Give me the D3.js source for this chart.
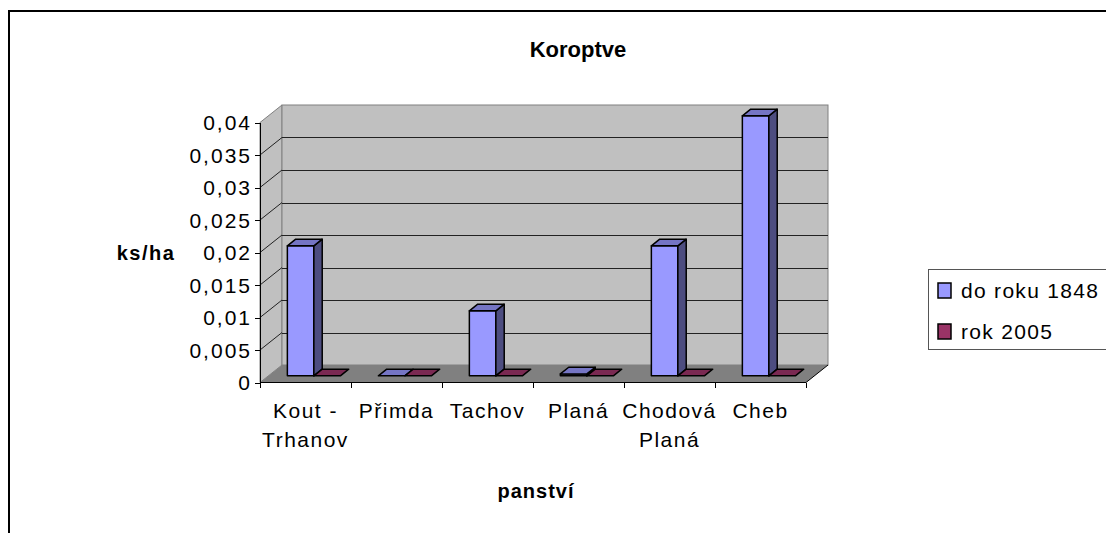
<!DOCTYPE html>
<meta charset="utf-8">
<head>
<style>
  body { margin: 0; background: #fff; }
  svg { display: block; font-family: Arial, "Liberation Sans", sans-serif; }
  .axis path, .axis line { stroke: #000; shape-rendering: crispEdges; }
  .axis text { font-size: 21px; fill: #000; letter-spacing: 1.5px; }
  .axis.y text { letter-spacing: 2px; }
</style>
</head>
<body>
<script src="https://cdnjs.cloudflare.com/ajax/libs/d3/7.8.5/d3.min.js"></script>
<script>

// data
const categories = [["Kout -", "Trhanov"], ["Přimda"], ["Tachov"], ["Planá"], ["Chodová", "Planá"], ["Cheb"]];
const seriesNames = ["do roku 1848", "rok 2005"];
const do1848 = [0.02, 0, 0.01, 0.0003, 0.02, 0.04];
const rok2005 = [0, 0, 0, 0, 0, 0];
const yTicks = [0, 0.005, 0.01, 0.015, 0.02, 0.025, 0.03, 0.035, 0.04];

const W = 1106, H = 533;
// oblique depth of the walls
const DX = 22, DY = -17.5;
// bars sit between these depth fractions
const f1 = 0.38, f2 = 0.76;

const colors = [
  {front: "#9999FF", side: "#4D4D80", top: "#7575C4"},
  {front: "#993366", side: "#4D1A33", top: "#7A2952"}
];

const svg = d3.select("body").append("svg")
  .attr("width", W)
  .attr("height", H);

const x = d3.scaleBand()
  .domain(d3.range(categories.length))
  .range([260, 806]);

const y = d3.scaleLinear()
  .domain([0, 0.04])
  .range([382.5, 122.5]);

const y0 = y(0), yTop = y(0.04);

// walls
svg.append("polygon")
  .attr("points", [[260, yTop], [260 + DX, yTop + DY], [260 + DX, y0 + DY], [260, y0]].join(" "))
  .attr("fill", "#C0C0C0")
  .attr("stroke", "#808080");

svg.append("rect")
  .attr("x", 260 + DX).attr("y", yTop + DY)
  .attr("width", 806 - 260).attr("height", y0 - yTop)
  .attr("fill", "#C0C0C0")
  .attr("stroke", "#808080");

// floor
svg.append("polygon")
  .attr("points", [[260, y0], [806, y0], [806 + DX, y0 + DY], [260 + DX, y0 + DY]].join(" "))
  .attr("fill", "#808080");

svg.append("line")
  .attr("x1", 806).attr("y1", y0)
  .attr("x2", 806 + DX).attr("y2", y0 + DY)
  .attr("stroke", "#000");

// gridlines
const grid = svg.append("g");
yTicks.filter(t => t > 0 && t < 0.04).forEach(t => {
  grid.append("line")
    .attr("x1", 260).attr("y1", y(t))
    .attr("x2", 260 + DX).attr("y2", y(t) + DY)
    .attr("stroke", "#222");
  grid.append("line")
    .attr("x1", 260 + DX).attr("y1", Math.round(y(t) + DY) + 0.5)
    .attr("x2", 806 + DX).attr("y2", Math.round(y(t) + DY) + 0.5)
    .attr("stroke", "#222");
});

// bars
const groupW = 53, pad = (x.bandwidth() - groupW) / 2, barW = groupW / 2;
const bdx = (f2 - f1) * DX, bdy = (f2 - f1) * DY;
const barData = [];
categories.forEach((c, i) => {
  [do1848, rok2005].forEach((vals, s) => {
    barData.push({i, s, v: vals[i]});
  });
});

const bars = svg.append("g")
  .selectAll("g")
  .data(barData)
  .join("g")
  .attr("stroke", "#000")
  .attr("stroke-width", 1.5)
  .attr("stroke-linejoin", "round");

bars.each(function(d) {
  const g = d3.select(this);
  const xa = x(d.i) + pad + d.s * barW + f1 * DX;
  const xb = xa + barW;
  const top = y(d.v) + f1 * DY;
  const bot = y0 + f1 * DY;
  const c = colors[d.s];
  if (bot - top > 0.5) {
    g.append("rect")
      .attr("x", xa).attr("y", top)
      .attr("width", barW).attr("height", bot - top)
      .attr("fill", c.front);
    g.append("polygon")
      .attr("points", [[xb, top], [xb + bdx, top + bdy], [xb + bdx, bot + bdy], [xb, bot]].join(" "))
      .attr("fill", c.side);
  }
  g.append("polygon")
    .attr("points", [[xa, top], [xb, top], [xb + bdx, top + bdy], [xa + bdx, top + bdy]].join(" "))
    .attr("fill", c.top);
});

// axes
const yAxis = d3.axisLeft(y)
  .tickValues(yTicks)
  .tickSize(5)
  .tickPadding(3)
  .tickFormat(d => String(+d.toFixed(3)).replace(".", ","));

svg.append("g")
  .attr("class", "axis y")
  .attr("transform", "translate(260,0)")
  .call(yAxis)
  .call(g => g.select(".domain").attr("d", `M0,${yTop}V${y0}`))
  .selectAll("text")
  .attr("dy", "0.35em");

const xAxis = svg.append("g").attr("class", "axis");
xAxis.append("line")
  .attr("x1", 260).attr("x2", 806)
  .attr("y1", y0).attr("y2", y0);
d3.range(categories.length + 1).forEach(i => {
  const xx = 260 + i * x.bandwidth();
  xAxis.append("line")
    .attr("x1", xx).attr("x2", xx)
    .attr("y1", y0).attr("y2", y0 + 5);
});
xAxis.selectAll("text.cat")
  .data(categories)
  .join("text")
  .attr("class", "cat")
  .attr("text-anchor", "middle")
  .attr("x", (d, i) => x(i) + x.bandwidth() / 2)
  .attr("y", 418)
  .selectAll("tspan")
  .data(d => d)
  .join("tspan")
  .attr("x", function() { return d3.select(this.parentNode).attr("x"); })
  .attr("dy", (d, j) => j === 0 ? 0 : 29)
  .text(d => d);

// titles
svg.append("text")
  .attr("x", 578).attr("y", 57)
  .attr("text-anchor", "middle")
  .attr("font-size", 22).attr("font-weight", "bold")
  .text("Koroptve");

svg.append("text")
  .attr("x", 146).attr("y", 260)
  .attr("text-anchor", "middle")
  .attr("font-size", 20).attr("font-weight", "bold")
  .attr("letter-spacing", 1.5)
  .text("ks/ha");

svg.append("text")
  .attr("x", 536).attr("y", 498)
  .attr("text-anchor", "middle")
  .attr("font-size", 20).attr("font-weight", "bold")
  .attr("letter-spacing", 1)
  .text("panství");

// legend
const legend = svg.append("g");
legend.append("rect")
  .attr("x", 928.5).attr("y", 269.5)
  .attr("width", 250).attr("height", 80)
  .attr("fill", "#fff")
  .attr("stroke", "#555");
seriesNames.forEach((n, k) => {
  legend.append("rect")
    .attr("x", 938).attr("y", 283 + k * 41)
    .attr("width", 13).attr("height", 15)
    .attr("fill", colors[k].front)
    .attr("stroke", "#000").attr("stroke-width", 1.5);
  legend.append("text")
    .attr("x", 961).attr("y", 298 + k * 41)
    .attr("font-size", 21)
    .attr("letter-spacing", 1.3)
    .text(n);
});

// outer frame
svg.append("rect")
  .attr("x", 9).attr("y", 11)
  .attr("width", 1200).attr("height", 600)
  .attr("fill", "none")
  .attr("stroke", "#000")
  .attr("stroke-width", 2);

</script>
</body>
